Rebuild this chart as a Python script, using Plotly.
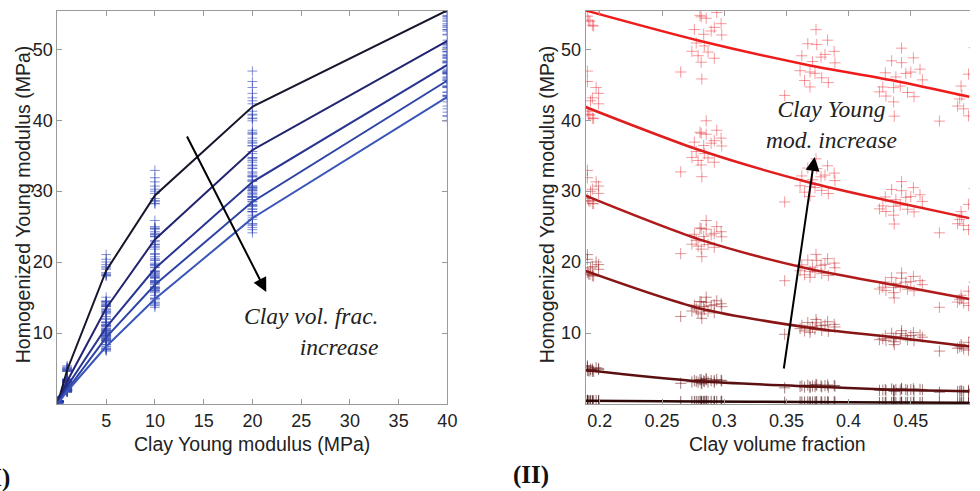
import plotly.graph_objects as go

# ---------------- data ----------------
clay_E = [0.1, 1, 5, 10, 20, 40]                 # clay Young modulus (MPa)
frac_levels = [0.188, 0.28, 0.367, 0.436, 0.497]  # clay volume fraction levels

# homogenized modulus curves, one list per clay volume fraction (values at clay_E)
line_f019 = [0.45, 4.8, 18.8, 29.4, 41.9, 55.5]
line_f028 = [0.35, 3.2, 13.5, 23.2, 35.8, 51.2]
line_f037 = [0.28, 2.5, 10.8, 19.1, 31.3, 47.8]
line_f044 = [0.22, 2.0, 9.4, 16.8, 28.5, 45.6]
line_f050 = [0.17, 1.8, 8.1, 14.8, 26.2, 43.3]

# individual samples: clay volume fraction of each sample
sample_frac = [
    0.190, 0.190, 0.197, 0.199, 0.194, 0.1925, 0.199, 0.191, 0.195, 0.190, 0.192, 0.194,
    0.2815, 0.2855, 0.294, 0.2975, 0.292, 0.2895, 0.276, 0.2835, 0.298, 0.2775, 0.284, 0.274,
    0.287, 0.279, 0.292, 0.2815, 0.265, 0.282, 0.2855, 0.2805,
    0.3738, 0.3672, 0.3744, 0.3831, 0.3624, 0.381, 0.3778, 0.3884, 0.371, 0.389, 0.361, 0.369,
    0.373, 0.3646, 0.3784, 0.3837, 0.369, 0.3486,
    0.4426, 0.4346, 0.4426, 0.4521, 0.4574, 0.4295, 0.45, 0.446, 0.438, 0.4593, 0.4275, 0.4362,
    0.4415, 0.4248, 0.4474, 0.4526, 0.430, 0.4362, 0.4367,
    0.4964, 0.4904, 0.4893, 0.4876, 0.4925, 0.4964, 0.491, 0.473, 0.503, 0.508, 0.501]

# homogenized modulus of each sample, for each clay modulus
hom_E01 = [
    0.50, 0.49, 0.48, 0.47, 0.46, 0.46, 0.45, 0.44, 0.43, 0.44, 0.44, 0.43,
    0.37, 0.37, 0.38, 0.37, 0.36, 0.36, 0.36, 0.36, 0.36, 0.35, 0.35, 0.34, 0.34, 0.34, 0.33, 0.33, 0.32, 0.31, 0.39, 0.37,
    0.31, 0.30, 0.30, 0.30, 0.29, 0.29, 0.29, 0.29, 0.28, 0.28, 0.28, 0.27, 0.27, 0.27, 0.27, 0.27, 0.26, 0.25,
    0.24, 0.23, 0.23, 0.24, 0.23, 0.23, 0.23, 0.22, 0.22, 0.22, 0.22, 0.22, 0.22, 0.21, 0.21, 0.21, 0.21, 0.21, 0.20,
    0.18, 0.18, 0.17, 0.16, 0.16, 0.16, 0.17, 0.16, 0.19, 0.16, 0.20]
hom_E1 = [
    5.38, 5.21, 5.11, 5.02, 4.94, 4.90, 4.85, 4.68, 4.61, 4.73, 4.67, 4.62,
    3.41, 3.40, 3.45, 3.35, 3.32, 3.29, 3.30, 3.26, 3.25, 3.18, 3.16, 3.11, 3.10, 3.07, 3.05, 3.01, 2.92, 2.86, 3.57, 3.42,
    2.76, 2.66, 2.65, 2.68, 2.57, 2.58, 2.56, 2.60, 2.53, 2.52, 2.46, 2.45, 2.44, 2.39, 2.41, 2.37, 2.34, 2.28,
    2.20, 2.12, 2.11, 2.14, 2.07, 2.05, 2.05, 2.04, 2.02, 2.00, 1.96, 1.96, 1.97, 1.93, 1.93, 1.90, 1.90, 1.87, 1.78,
    1.93, 1.86, 1.79, 1.75, 1.73, 1.69, 1.81, 1.66, 1.98, 1.71, 2.09]
hom_E5 = [
    21.06, 20.40, 20.02, 19.65, 19.36, 19.18, 18.99, 18.33, 18.05, 18.52, 18.27, 18.09,
    14.39, 14.34, 14.55, 14.13, 14.00, 13.86, 13.92, 13.74, 13.72, 13.42, 13.31, 13.11, 13.08, 12.95, 12.85, 12.70, 12.34, 12.08, 15.05, 14.45,
    11.92, 11.48, 11.45, 11.59, 11.09, 11.13, 11.05, 11.23, 10.91, 10.86, 10.62, 10.57, 10.53, 10.30, 10.39, 10.24, 10.10, 9.83,
    10.34, 9.97, 9.92, 10.06, 9.73, 9.63, 9.64, 9.61, 9.50, 9.42, 9.21, 9.19, 9.24, 9.07, 9.05, 8.93, 8.95, 8.78, 8.37,
    8.70, 8.38, 8.04, 7.86, 7.78, 7.60, 8.14, 7.46, 8.91, 7.70, 9.40]
hom_E10 = [
    32.93, 31.90, 31.31, 30.72, 30.28, 29.99, 29.69, 28.67, 28.22, 28.96, 28.58, 28.28,
    24.73, 24.64, 25.01, 24.29, 24.06, 23.83, 23.92, 23.62, 23.57, 23.06, 22.88, 22.53, 22.48, 22.25, 22.09, 21.83, 21.20, 20.76, 25.87, 24.82,
    21.09, 20.29, 20.25, 20.49, 19.62, 19.69, 19.54, 19.86, 19.29, 19.21, 18.78, 18.70, 18.62, 18.22, 18.37, 18.11, 17.86, 17.38,
    18.48, 17.82, 17.72, 17.98, 17.39, 17.20, 17.24, 17.17, 16.98, 16.83, 16.46, 16.43, 16.51, 16.21, 16.18, 15.96, 15.99, 15.69, 14.95,
    15.90, 15.32, 14.70, 14.36, 14.22, 13.88, 14.87, 13.63, 16.28, 14.06, 17.17]
hom_E20 = [
    46.93, 45.46, 44.62, 43.79, 43.16, 42.74, 42.32, 40.85, 40.22, 41.27, 40.73, 40.31,
    38.16, 38.02, 38.59, 37.48, 37.12, 36.77, 36.91, 36.44, 36.37, 35.59, 35.30, 34.76, 34.69, 34.33, 34.08, 33.69, 32.72, 32.04, 39.92, 38.31,
    34.56, 33.26, 33.18, 33.58, 32.15, 32.27, 32.02, 32.55, 31.61, 31.49, 30.77, 30.64, 30.52, 29.86, 30.11, 29.67, 29.27, 28.48,
    31.35, 30.24, 30.07, 30.50, 29.50, 29.18, 29.24, 29.13, 28.81, 28.56, 27.93, 27.87, 28.02, 27.50, 27.45, 27.08, 27.13, 26.62, 25.37,
    28.14, 27.12, 26.02, 25.41, 25.18, 24.58, 26.33, 24.13, 28.82, 24.89, 30.39]
hom_E40 = [
    62.16, 60.22, 59.11, 58.00, 57.17, 56.61, 56.06, 54.11, 53.28, 54.67, 53.95, 53.39,
    54.58, 54.37, 55.19, 53.61, 53.09, 52.58, 52.79, 52.12, 52.02, 50.89, 50.48, 49.72, 49.61, 49.10, 48.74, 48.18, 46.80, 45.82, 57.09, 54.78,
    52.77, 50.79, 50.67, 51.29, 49.09, 49.28, 48.90, 49.71, 48.28, 48.09, 46.99, 46.80, 46.61, 45.60, 45.98, 45.31, 44.69, 43.50,
    50.16, 48.38, 48.11, 48.79, 47.20, 46.69, 46.79, 46.60, 46.10, 45.69, 44.69, 44.60, 44.82, 44.00, 43.91, 43.32, 43.41, 42.59, 40.58,
    46.50, 44.82, 43.00, 42.00, 41.61, 40.62, 43.52, 39.88, 47.63, 41.14, 50.23]

y_ticks = [10, 20, 30, 40, 50]
x1_ticks = [5, 10, 15, 20, 25, 30, 35, 40]
x2_ticks = [0.2, 0.25, 0.3, 0.35, 0.4, 0.45]
x2_ticktext = ["0.2", "0.25", "0.3", "0.35", "0.4", "0.45"]

# ---------------- styling ----------------
W, H = 980, 491
def px(v): return v / W
def py(v): return 1 - v / H

lines_by_frac = [line_f019, line_f028, line_f037, line_f044, line_f050]
samples_by_E = [hom_E01, hom_E1, hom_E5, hom_E10, hom_E20, hom_E40]

left_line_colors = ["#16162c", "#222470", "#293592", "#2f45a6", "#3a56b8"]
left_marker_color = "rgba(50,70,180,0.6)"
right_line_colors = ["#2e0707", "#5a1010", "#871515", "#b01a1a", "#e01e1e", "#f01a1a"]
right_marker_colors = ["rgba(60,10,10,0.6)", "rgba(90,16,16,0.55)", "rgba(150,25,25,0.5)",
                       "rgba(200,30,35,0.45)", "rgba(230,30,40,0.45)", "rgba(240,30,40,0.45)"]

SANS = "Liberation Sans, Arial, Helvetica, sans-serif"
SERIF = "Liberation Serif, Times New Roman, serif"

fig = go.Figure()

# left panel: samples
for j, E in enumerate(clay_E):
    fig.add_trace(go.Scatter(
        x=[E] * len(samples_by_E[j]), y=samples_by_E[j], mode="markers",
        marker=dict(symbol="cross-thin", size=7, line=dict(width=1, color=left_marker_color)),
        xaxis="x", yaxis="y", showlegend=False, hoverinfo="skip"))
# left panel: curves
for i, ln in enumerate(lines_by_frac):
    fig.add_trace(go.Scatter(
        x=clay_E, y=ln, mode="lines", line=dict(color=left_line_colors[i], width=2),
        xaxis="x", yaxis="y", showlegend=False))

# right panel: samples
for j, E in enumerate(clay_E):
    fig.add_trace(go.Scatter(
        x=sample_frac, y=samples_by_E[j], mode="markers",
        marker=dict(symbol="cross-thin", size=8, line=dict(width=1, color=right_marker_colors[j])),
        xaxis="x2", yaxis="y2", showlegend=False, hoverinfo="skip"))
# right panel: curves
for j, E in enumerate(clay_E):
    fig.add_trace(go.Scatter(
        x=frac_levels, y=[ln[j] for ln in lines_by_frac], mode="lines",
        line=dict(color=right_line_colors[j], width=2.5, shape="spline", smoothing=0.8),
        xaxis="x2", yaxis="y2", showlegend=False))

axis_common = dict(showgrid=False, zeroline=False, showline=True, linecolor="#9a9a9a", linewidth=1,
                   ticks="inside", ticklen=5, tickcolor="#9a9a9a",
                   tickfont=dict(family=SANS, size=18, color="#222"))
ydom = [1 - 404 / H, 1 - 11 / H]

fig.update_layout(
    width=W, height=H, margin=dict(l=0, r=0, t=0, b=0),
    paper_bgcolor="white", plot_bgcolor="white",
    xaxis=dict(domain=[px(58), px(452)], range=[0, 40], tickvals=x1_ticks, mirror="ticks",
               anchor="y", **axis_common),
    yaxis=dict(domain=ydom, range=[0, 55.4], tickvals=y_ticks, mirror="ticks", anchor="x", **axis_common),
    xaxis2=dict(domain=[px(591.7), 1.0], range=[0.1886, 0.4976], tickvals=x2_ticks, ticktext=x2_ticktext,
                mirror="ticks", anchor="y2", **axis_common),
    yaxis2=dict(domain=ydom, range=[0, 55.4], tickvals=y_ticks, mirror=False, anchor="x2", **axis_common),
)

ann = []
tf = dict(family=SANS, size=19.5, color="#222")
ann.append(dict(text="Clay Young modulus (MPa)", x=px(255), y=py(444), xref="paper", yref="paper",
                showarrow=False, font=tf, xanchor="center", yanchor="middle"))
ann.append(dict(text="Clay volume fraction", x=px(786), y=py(444), xref="paper", yref="paper",
                showarrow=False, font=tf, xanchor="center", yanchor="middle"))
ann.append(dict(text="Homogenized Young modulus (MPa)", x=px(23.5), y=py(204), xref="paper", yref="paper",
                showarrow=False, font=tf, textangle=-90, xanchor="center", yanchor="middle"))
ann.append(dict(text="Homogenized Young modulus (MPa)", x=px(553), y=py(204), xref="paper", yref="paper",
                showarrow=False, font=tf, textangle=-90, xanchor="center", yanchor="middle"))
sf = dict(family=SERIF, size=23.5, color="#222")
ann.append(dict(text="<i>Clay vol. frac.</i><br><i>increase</i>", x=px(384), y=py(331), xref="paper",
                yref="paper", showarrow=False, font=sf, align="right", xanchor="right", yanchor="middle"))
ann.append(dict(text="<i>Clay Young</i><br><i>mod. increase</i>", x=px(840), y=py(124), xref="paper",
                yref="paper", showarrow=False, font=sf, align="center", xanchor="center", yanchor="middle"))
# arrows
ann.append(dict(text="", x=px(269), y=py(292), xref="paper", yref="paper", showarrow=True,
                ax=-80, ay=-157, arrowhead=2, arrowsize=1.4, arrowwidth=2, arrowcolor="black"))
ann.append(dict(text="", x=px(823), y=py(157), xref="paper", yref="paper", showarrow=True,
                ax=-31, ay=213, arrowhead=2, arrowsize=1.4, arrowwidth=2, arrowcolor="black"))
# panel labels
bf = dict(family=SERIF, size=25, color="#111")
ann.append(dict(text="<b>(II)</b>", x=px(536), y=py(475), xref="paper", yref="paper", showarrow=False,
                font=bf, xanchor="center", yanchor="middle"))
ann.append(dict(text="<b>(I)</b>", x=px(12), y=py(478), xref="paper", yref="paper", showarrow=False,
                font=bf, xanchor="right", yanchor="middle"))
fig.update_layout(annotations=ann)

fig.write_html("out.html")
